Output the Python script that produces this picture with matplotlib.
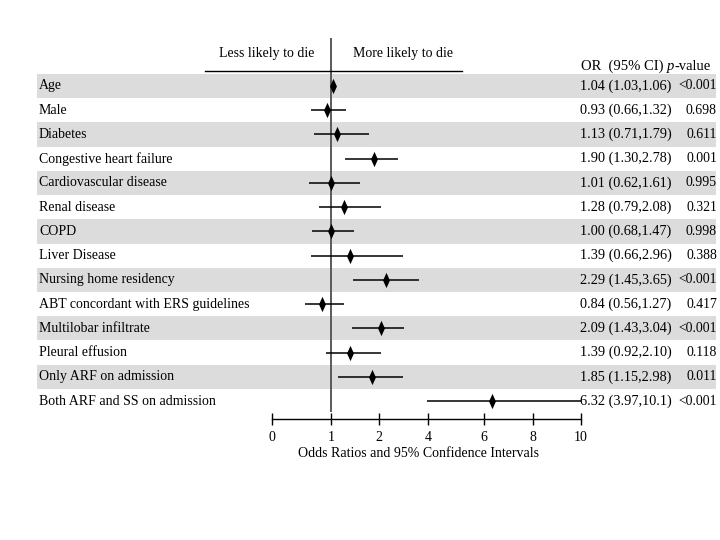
import numpy as np
import matplotlib
matplotlib.use("Agg")
import matplotlib.pyplot as plt
from matplotlib.patches import Rectangle
from matplotlib import transforms

plt.rcParams['font.family'] = ['Liberation Serif', 'DejaVu Serif']
plt.rcParams['font.size'] = 10

factors = ["Age", "Male", "Diabetes", "Congestive heart failure",
           "Cardiovascular disease", "Renal disease", "COPD", "Liver Disease",
           "Nursing home residency", "ABT concordant with ERS guidelines",
           "Multilobar infiltrate", "Pleural effusion", "Only ARF on admission",
           "Both ARF and SS on admission"]
odds = [1.04, 0.93, 1.13, 1.90, 1.01, 1.28, 1.00, 1.39, 2.29, 0.84, 2.09, 1.39, 1.85, 6.32]
ci_low = [1.03, 0.66, 0.71, 1.30, 0.62, 0.79, 0.68, 0.66, 1.45, 0.56, 1.43, 0.92, 1.15, 3.97]
ci_high = [1.06, 1.32, 1.79, 2.78, 1.61, 2.08, 1.47, 2.96, 3.65, 1.27, 3.04, 2.10, 2.98, 10.1]
ci_text = ["1.04 (1.03,1.06)", "0.93 (0.66,1.32)", "1.13 (0.71,1.79)", "1.90 (1.30,2.78)",
           "1.01 (0.62,1.61)", "1.28 (0.79,2.08)", "1.00 (0.68,1.47)", "1.39 (0.66,2.96)",
           "2.29 (1.45,3.65)", "0.84 (0.56,1.27)", "2.09 (1.43,3.04)", "1.39 (0.92,2.10)",
           "1.85 (1.15,2.98)", "6.32 (3.97,10.1)"]
p_text = ["<0.001", "0.698", "0.611", "0.001", "0.995", "0.321", "0.998", "0.388",
          "<0.001", "0.417", "<0.001", "0.118", "0.011", "<0.001"]
tick_vals = [0, 1, 2, 4, 6, 8, 10]
tick_pos = [0, 59, 107, 156, 212, 261, 309]   # uneven axis drawn by hand


def fwd(x):
    return np.interp(x, tick_vals, tick_pos)


def inv(x):
    return np.interp(x, tick_pos, tick_vals)


W, H = 720, 540
fig = plt.figure(figsize=(7.2, 5.4), dpi=100)
ax = fig.add_axes([272 / W, (H - 419) / H, 309 / W, 381 / H])
ax.set_xscale('function', functions=(fwd, inv))
ax.set_xlim(0, 10)
ax.set_ylim(13.74, -1.98)

rows = np.arange(len(factors))
blend = transforms.blended_transform_factory(fig.transFigure, ax.transData)

# grey stripes on every other row, across the whole table
for i in rows[::2]:
    ax.add_patch(Rectangle((37 / W, i - 0.5), (716 - 37) / W, 1.0, transform=blend,
                           color='#dcdcdc', lw=0, clip_on=False, zorder=0))

diamond = [(0, 1), (0.45, 0), (0, -1), (-0.45, 0), (0, 1)]
ax.vlines(1, -1.98, 13.45, color='#5a5a5a', lw=1.4, zorder=1)
ax.hlines(rows, ci_low, ci_high, color='black', lw=1.1, zorder=2, clip_on=False)
ax.plot(odds, rows, marker=diamond, ls='none', color='black', ms=11, mew=0, zorder=3)

for i in rows:
    ax.text(39 / W, i, factors[i], transform=blend, va='center', ha='left')
    ax.text(580 / W, i, ci_text[i], transform=blend, va='center', ha='left', fontsize=10.3)
    ax.text(717 / W, i, p_text[i], transform=blend, va='center', ha='right', fontsize=9.9)

# header
ax.plot([205 / W, 462 / W], [-0.62, -0.62], color='black', lw=1, transform=blend, clip_on=False)
ax.text(267 / W, -1.36, "Less likely to die", transform=blend, ha='center', va='center')
ax.text(403 / W, -1.36, "More likely to die", transform=blend, ha='center', va='center')
hdr = ax.text(581 / W, -0.83, "OR  (95% CI) ", transform=blend, ha='left', va='center',
              fontsize=10.5)
p = ax.annotate("p", xy=(1, 0), xycoords=hdr, ha='left', va='bottom', fontsize=10.5,
                style='italic')
ax.annotate("-value", xy=(1, 0), xycoords=p, ha='left', va='bottom', fontsize=10.5)

for s in ['left', 'right', 'top']:
    ax.spines[s].set_visible(False)
ax.spines['bottom'].set_linewidth(1)
ax.set_yticks([])
ax.set_xticks(tick_vals)
ax.set_xticklabels([str(v) for v in tick_vals])
ax.tick_params(axis='x', direction='inout', length=9, width=1, pad=4, labelsize=10)
ax.set_xlabel("Odds Ratios and 95% Confidence Intervals", x=(419 - 272) / 309,
              labelpad=2, fontsize=10)

fig.savefig("out.png", dpi=100)
